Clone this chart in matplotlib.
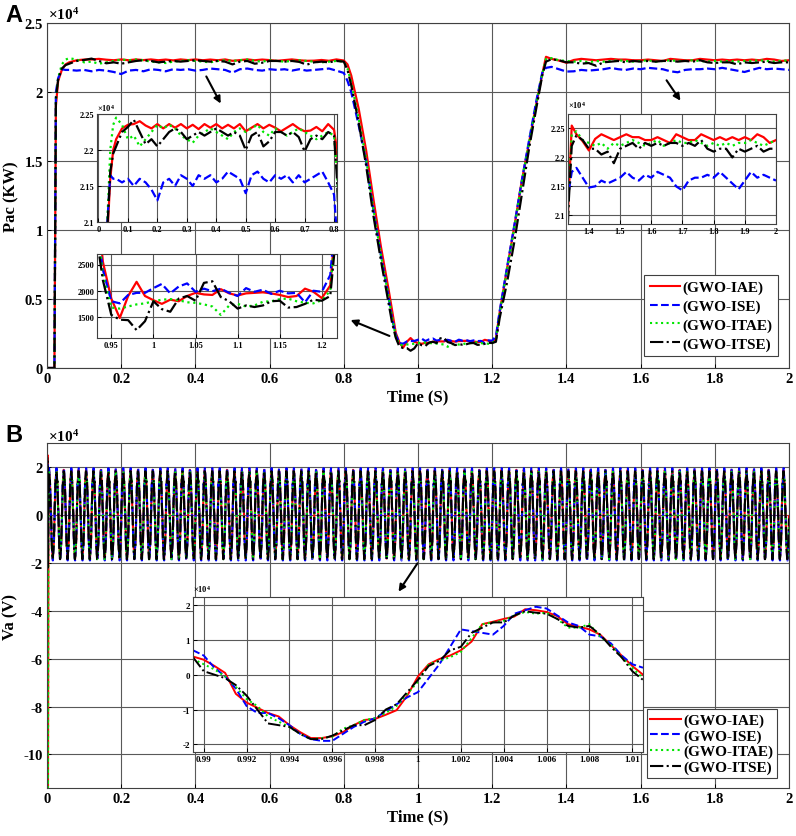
import numpy as np
import matplotlib
matplotlib.use('Agg')
import matplotlib.pyplot as plt

plt.rcParams['font.family'] = ['Liberation Serif', 'DejaVu Serif']
plt.rcParams['font.weight'] = 'bold'
plt.rcParams['axes.labelweight'] = 'bold'
plt.rcParams['axes.unicode_minus'] = False
plt.rcParams['mathtext.default'] = 'regular'

LABELS = ['(GWO-IAE)', '(GWO-ISE)', '(GWO-ITAE)', '(GWO-ITSE)']
COLORS = ['#ff0000', '#0000ff', '#00e600', '#000000']
STYLES = ['-', '--', ':', '-.']

# ---------------- Pac (values x1e4 W, dip in W) ----------------
T_START = [0.0, 0.02, 0.024, 0.03, 0.04, 0.05, 0.06]
T_FLAT1 = np.round(np.arange(0.08, 0.801, 0.02), 3)
T_DOWN = [0.81, 0.82, 0.84, 0.86, 0.88, 0.90, 0.92, 0.93]
T_DIP = np.round(np.arange(0.94, 1.201, 0.01), 3)
T_UP = [1.21, 1.22, 1.24, 1.26, 1.28, 1.30, 1.32, 1.335]
T_FLAT2 = np.r_[1.345, np.round(np.arange(1.36, 2.001, 0.02), 3)]

IAE_START = [0, 0, 1.90, 2.08, 2.16, 2.20, 2.215]
ISE_START = [0, 0, 2.00, 2.10, 2.165, 2.16, 2.16]
ITAE_START = [0, 0, 1.95, 2.10, 2.20, 2.235, 2.245]
ITSE_START = [0, 0, 1.95, 2.09, 2.17, 2.195, 2.205]

IAE_FLAT1 = [2.230, 2.235, 2.236, 2.240, 2.234, 2.230, 2.236, 2.230, 2.236, 2.231,
             2.236, 2.230, 2.235, 2.229, 2.236, 2.231, 2.236, 2.230, 2.235, 2.230,
             2.236, 2.226, 2.231, 2.236, 2.230, 2.235, 2.231, 2.226, 2.231, 2.236,
             2.230, 2.226, 2.227, 2.232, 2.226, 2.236, 2.228]
ISE_FLAT1 = [2.155, 2.160, 2.150, 2.160, 2.155, 2.145, 2.130, 2.155, 2.160, 2.150,
             2.165, 2.160, 2.150, 2.165, 2.160, 2.165, 2.155, 2.160, 2.170, 2.165,
             2.160, 2.140, 2.165, 2.170, 2.160, 2.155, 2.165, 2.160, 2.165, 2.155,
             2.165, 2.155, 2.160, 2.165, 2.170, 2.155, 2.138]
ITAE_FLAT1 = [2.235, 2.215, 2.220, 2.205, 2.215, 2.225, 2.235, 2.230, 2.235, 2.230,
              2.220, 2.215, 2.210, 2.220, 2.225, 2.230, 2.225, 2.220, 2.215, 2.225,
              2.230, 2.225, 2.230, 2.235, 2.225, 2.220, 2.230, 2.225, 2.220, 2.225,
              2.230, 2.225, 2.220, 2.215, 2.220, 2.225, 2.220]
ITSE_FLAT1 = [2.225, 2.232, 2.242, 2.225, 2.208, 2.215, 2.205, 2.215, 2.225, 2.230,
              2.225, 2.215, 2.220, 2.225, 2.220, 2.225, 2.230, 2.225, 2.220, 2.225,
              2.220, 2.200, 2.220, 2.225, 2.205, 2.212, 2.225, 2.225, 2.220, 2.225,
              2.218, 2.198, 2.215, 2.220, 2.215, 2.225, 2.220]

IAE_DOWN = [2.20, 2.12, 1.88, 1.58, 1.22, 0.88, 0.58, 0.42]
ISE_DOWN = [2.08, 2.00, 1.76, 1.50, 1.14, 0.82, 0.52, 0.36]
ITAE_DOWN = [2.17, 2.07, 1.81, 1.52, 1.15, 0.82, 0.53, 0.37]
ITSE_DOWN = [2.16, 2.05, 1.78, 1.47, 1.10, 0.78, 0.48, 0.33]

IAE_DIP = [2550, 1850, 1480, 1900, 2170, 1900, 1820, 1750, 1830, 1800, 1900, 1960, 1930, 1920,
           2030, 1950, 1910, 1950, 1960, 1970, 1950, 1920, 1880, 1900, 2040, 1980, 1860]
ISE_DIP = [2400, 1800, 1760, 1920, 1960, 1960, 2050, 2130, 1950, 2080, 2140, 1980, 2040, 1990,
           2040, 1960, 1900, 2050, 1980, 2020, 1940, 2000, 1950, 1960, 1780, 2000, 1980]
ITAE_DIP = [2300, 1680, 1660, 1700, 1740, 1760, 1800, 1830, 1840, 1820, 1780, 1770, 1740, 1700,
            1540, 1720, 1750, 1700, 1720, 1790, 1800, 1840, 1850, 1800, 1770, 1760, 1820]
ITSE_DIP = [2200, 1540, 1450, 1440, 1250, 1420, 1800, 1650, 1600, 1850, 1900, 1810, 2150, 2180,
            1880, 1800, 1660, 1720, 1690, 1720, 1800, 1810, 1680, 1690, 1750, 1830, 1810]

IAE_UP = [0.21, 0.40, 0.72, 1.03, 1.36, 1.64, 1.93, 2.13]
ISE_UP = [0.23, 0.41, 0.73, 1.04, 1.36, 1.66, 1.95, 2.14]
ITAE_UP = [0.20, 0.39, 0.71, 1.02, 1.35, 1.64, 1.93, 2.13]
ITSE_UP = [0.19, 0.36, 0.62, 0.92, 1.26, 1.60, 1.90, 2.12]

IAE_FLAT2 = [2.255, 2.240, 2.228, 2.212, 2.232, 2.240, 2.235, 2.230, 2.235, 2.240,
             2.235, 2.235, 2.230, 2.230, 2.235, 2.230, 2.225, 2.240, 2.235, 2.230,
             2.230, 2.240, 2.235, 2.230, 2.235, 2.230, 2.235, 2.230, 2.235, 2.230,
             2.240, 2.235, 2.225, 2.230]
ISE_FLAT2 = [2.175, 2.182, 2.165, 2.148, 2.150, 2.160, 2.155, 2.160, 2.165, 2.175,
             2.165, 2.160, 2.170, 2.165, 2.175, 2.170, 2.165, 2.150, 2.143, 2.160,
             2.165, 2.165, 2.170, 2.165, 2.175, 2.165, 2.155, 2.145, 2.160, 2.175,
             2.165, 2.170, 2.165, 2.160]
ITAE_FLAT2 = [2.240, 2.245, 2.230, 2.225, 2.220, 2.225, 2.215, 2.225, 2.220, 2.225,
              2.230, 2.225, 2.220, 2.225, 2.230, 2.220, 2.225, 2.230, 2.225, 2.225,
              2.230, 2.225, 2.220, 2.225, 2.220, 2.225, 2.220, 2.225, 2.225, 2.230,
              2.225, 2.220, 2.225, 2.230]
ITSE_FLAT2 = [2.220, 2.238, 2.230, 2.215, 2.215, 2.205, 2.210, 2.190, 2.215, 2.220,
              2.225, 2.215, 2.225, 2.220, 2.225, 2.220, 2.225, 2.225, 2.220, 2.225,
              2.220, 2.230, 2.215, 2.210, 2.215, 2.215, 2.200, 2.215, 2.210, 2.215,
              2.220, 2.210, 2.215, 2.215]

# ---------------- Va (x1e4 V) around t = 1 s ----------------
T_CYCLE = np.round(np.arange(0.9895, 1.01051, 0.0005), 4)
IAE_VA = [0.52, 0.43, 0.25, 0.05, -0.55, -0.8, -0.95, -1.1, -1.2, -1.45,
          -1.65, -1.82, -1.82, -1.77, -1.65, -1.45, -1.3, -1.27, -1.15, -1.02,
          -0.6, -0.05, 0.3, 0.45, 0.55, 0.7, 0.95, 1.45, 1.52, 1.6,
          1.67, 1.88, 1.85, 1.8, 1.68, 1.45, 1.38, 1.3, 1.15, 0.85,
          0.55, 0.25, 0.0]
ISE_VA = [0.7, 0.55, 0.2, -0.05, -0.4, -0.9, -1.1, -1.1, -1.25, -1.45,
          -1.7, -1.85, -1.9, -1.9, -1.7, -1.5, -1.35, -1.25, -1.05, -0.85,
          -0.65, -0.5, -0.1, 0.3, 0.8, 1.3, 1.25, 1.2, 1.15, 1.4,
          1.75, 1.85, 1.95, 1.9, 1.7, 1.5, 1.4, 1.15, 1.1, 0.9,
          0.55, 0.3, 0.2]
ITAE_VA = [0.45, 0.3, 0.15, -0.05, -0.35, -0.7, -0.9, -1.2, -1.35, -1.5,
           -1.7, -1.85, -1.82, -1.78, -1.55, -1.45, -1.3, -1.25, -1.1, -0.9,
           -0.55, -0.2, 0.3, 0.4, 0.5, 0.65, 1.05, 1.45, 1.5, 1.55,
           1.7, 1.8, 1.75, 1.78, 1.6, 1.35, 1.35, 1.45, 1.1, 0.85,
           0.5, 0.2, -0.1]
ITSE_VA = [0.5, 0.1, 0.0, -0.1, -0.3, -0.6, -1.0, -1.4, -1.45, -1.5,
           -1.7, -1.85, -1.85, -1.75, -1.6, -1.45, -1.45, -1.3, -1.0, -0.85,
           -0.5, -0.15, 0.25, 0.4, 0.7, 0.8, 1.2, 1.35, 1.5, 1.5,
           1.7, 1.82, 1.78, 1.75, 1.6, 1.4, 1.35, 1.4, 1.15, 0.8,
           0.5, 0.1, -0.15]
PERIOD = 0.02
# start-up transient at t = 0
T_VA_START = [0.0, 0.0012, 0.0025, 0.004]
IAE_VA_START = [0, 2.5, -13.0, 0.5]
ISE_VA_START = [0, 2.1, -2.0, 0.4]
ITAE_VA_START = [0, 1.8, -13.0, 0.3]
ITSE_VA_START = [0, 2.4, -2.2, 0.3]


def pac_series(start, flat1, down, dip, up, flat2):
    t = np.concatenate([T_START, T_FLAT1, T_DOWN, T_DIP, T_UP, T_FLAT2])
    p = np.concatenate([start, flat1, down, np.array(dip) / 1e4, up, flat2])
    return t, p


def va_series(start, cycle):
    ct = T_CYCLE[2:42]
    cv = np.array(cycle)[2:42]
    ts, vs = [np.array(T_VA_START)], [np.array(start)]
    for k in range(-50, 51):
        tt = ct + k * PERIOD
        keep = (tt > 0.005) & (tt <= 2.0)
        ts.append(tt[keep])
        vs.append(cv[keep])
    return np.concatenate(ts), np.concatenate(vs)


PAC = [pac_series(IAE_START, IAE_FLAT1, IAE_DOWN, IAE_DIP, IAE_UP, IAE_FLAT2),
       pac_series(ISE_START, ISE_FLAT1, ISE_DOWN, ISE_DIP, ISE_UP, ISE_FLAT2),
       pac_series(ITAE_START, ITAE_FLAT1, ITAE_DOWN, ITAE_DIP, ITAE_UP, ITAE_FLAT2),
       pac_series(ITSE_START, ITSE_FLAT1, ITSE_DOWN, ITSE_DIP, ITSE_UP, ITSE_FLAT2)]
VA_CYCLES = [IAE_VA, ISE_VA, ITAE_VA, ITSE_VA]
VA = [va_series(IAE_VA_START, IAE_VA), va_series(ISE_VA_START, ISE_VA),
      va_series(ITAE_VA_START, ITAE_VA), va_series(ITSE_VA_START, ITSE_VA)]

W, H = 796, 837
fig = plt.figure(figsize=(W / 100, H / 100), dpi=100)


def box(x0, y0, x1, y1):
    return [x0 / W, 1 - y1 / H, (x1 - x0) / W, (y1 - y0) / H]


def style(ax, size, pad=3):
    ax.grid(True, color='0.35', lw=0.8)
    ax.set_axisbelow(True)
    ax.tick_params(direction='in', length=3, width=0.7, labelsize=size, pad=pad)
    for s in ax.spines.values():
        s.set_linewidth(0.8)
        s.set_color('0.25')


def draw(ax, series, lw, scale=1.0):
    for (t, v), c, ls, lab in zip(series, COLORS, STYLES, LABELS):
        ax.plot(t, np.asarray(v) * scale, color=c, ls=ls, lw=lw, label=lab)


def legend(ax, x1, y1, spacing, bpad):
    leg = ax.legend(loc='lower right', bbox_to_anchor=(x1 / W, 1 - y1 / H),
                    bbox_transform=fig.transFigure, borderaxespad=0,
                    fontsize=11, fancybox=False, framealpha=1, edgecolor='0.25',
                    handlelength=2.0, handletextpad=0.15, labelspacing=spacing,
                    borderpad=bpad)
    leg.get_frame().set_linewidth(0.8)
    for h in leg.get_lines():
        h.set_linewidth(1.5)


def arrow(tail, head):
    fig.add_artist(matplotlib.patches.FancyArrowPatch(
        (tail[0] / W, 1 - tail[1] / H), (head[0] / W, 1 - head[1] / H),
        transform=fig.transFigure, arrowstyle='-|>', mutation_scale=10,
        color='black', lw=1.5))


x_ticks = np.round(np.arange(0, 2.01, 0.2), 1)
x_lbls = ['0'] + [f'{v:g}' for v in x_ticks[1:]]

# ---------------- panel A ----------------
ax1 = fig.add_axes(box(47, 24, 789, 369))
draw(ax1, PAC, 1.6)
ax1.set_xlim(0, 2)
ax1.set_ylim(0, 2.5)
ax1.set_xticks(x_ticks, x_lbls)
ax1.set_yticks([0, 0.5, 1, 1.5, 2, 2.5], ['0', '0.5', '1', '1.5', '2', '2.5'])
style(ax1, 10.5)
ax1.set_xlabel('Time (S)', fontsize=12, labelpad=2)
ax1.set_ylabel('Pac (KW)', fontsize=12, labelpad=4)
legend(ax1, 778, 357, 0.32, 0.35)
fig.text(48 / W, 1 - 20 / H, '×10$^4$', fontsize=11)

in1 = fig.add_axes(box(97, 115, 337, 223))
draw(in1, PAC, 1.6)
in1.set_xlim(-0.005, 0.81)
in1.set_ylim(2.1, 2.25)
in1.set_xticks(np.round(np.arange(0, 0.81, 0.1), 1), ['0'] + [f'{v:.1f}' for v in np.arange(0.1, 0.81, 0.1)])
in1.set_yticks([2.1, 2.15, 2.2, 2.25], ['2.1', '2.15', '2.2', '2.25'])
style(in1, 6, pad=2)
fig.text(97 / W, 1 - 112 / H, '×10$^4$', fontsize=6)

in2 = fig.add_axes(box(97, 255, 337, 339))
draw(in2, PAC, 1.6, scale=1e4)
in2.set_xlim(0.933, 1.218)
in2.set_ylim(1100, 2700)
in2.set_xticks([0.95, 1.0, 1.05, 1.1, 1.15, 1.2], ['0.95', '1', '1.05', '1.1', '1.15', '1.2'])
in2.set_yticks([1500, 2000, 2500], ['1500', '2000', '2500'])
style(in2, 6, pad=2)

in3 = fig.add_axes(box(568, 115, 776, 225))
draw(in3, PAC, 1.6)
in3.set_xlim(1.333, 2.0)
in3.set_ylim(2.085, 2.275)
in3.set_xticks(np.round(np.arange(1.4, 2.01, 0.1), 1), [f'{v:.1f}' for v in np.arange(1.4, 1.95, 0.1)] + ['2'])
in3.set_yticks([2.1, 2.15, 2.2, 2.25], ['2.1', '2.15', '2.2', '2.25'])
style(in3, 6, pad=2)
fig.text(568 / W, 1 - 109 / H, '×10$^4$', fontsize=6)

arrow((205, 75), (222, 107))
arrow((665, 79), (682, 104))
arrow((392, 338), (348, 320))

# ---------------- panel B ----------------
ax2 = fig.add_axes(box(47, 444, 789, 789))
draw(ax2, VA, 1.5)
ax2.set_xlim(0, 2)
ax2.set_ylim(-11.4, 3)
ax2.set_xticks(x_ticks, x_lbls)
ax2.set_yticks([-10, -8, -6, -4, -2, 0, 2], ['-10', '-8', '-6', '-4', '-2', '0', '2'])
style(ax2, 10.5)
ax2.set_xlabel('Time (S)', fontsize=12, labelpad=2)
ax2.set_ylabel('Va (V)', fontsize=12, labelpad=4)
legend(ax2, 777, 779, 0.12, 0.25)
fig.text(48 / W, 1 - 442 / H, '×10$^4$', fontsize=11)

in4 = fig.add_axes(box(193, 598, 643, 753))
for cyc, c, ls in zip(VA_CYCLES, COLORS, STYLES):
    in4.plot(T_CYCLE, cyc, color=c, ls=ls, lw=1.4)
in4.set_xlim(0.9895, 1.0105)
in4.set_ylim(-2.22, 2.23)
xt4 = np.round(np.arange(0.99, 1.0101, 0.002), 3)
in4.set_xticks(xt4, [f'{v:g}' for v in xt4])
in4.set_yticks([-2, -1, 0, 1, 2], ['-2', '-1', '0', '1', '2'])
style(in4, 6.5, pad=2)
fig.text(193 / W, 1 - 593 / H, '×10$^4$', fontsize=6)

arrow((419, 562), (397, 595))

fig.text(5 / W, 1 - 4 / H, 'A', fontsize=17, family='Liberation Sans', weight='bold', va='top')
fig.text(5 / W, 1 - 424 / H, 'B', fontsize=17, family='Liberation Sans', weight='bold', va='top')

fig.savefig('out.png', dpi=100)
